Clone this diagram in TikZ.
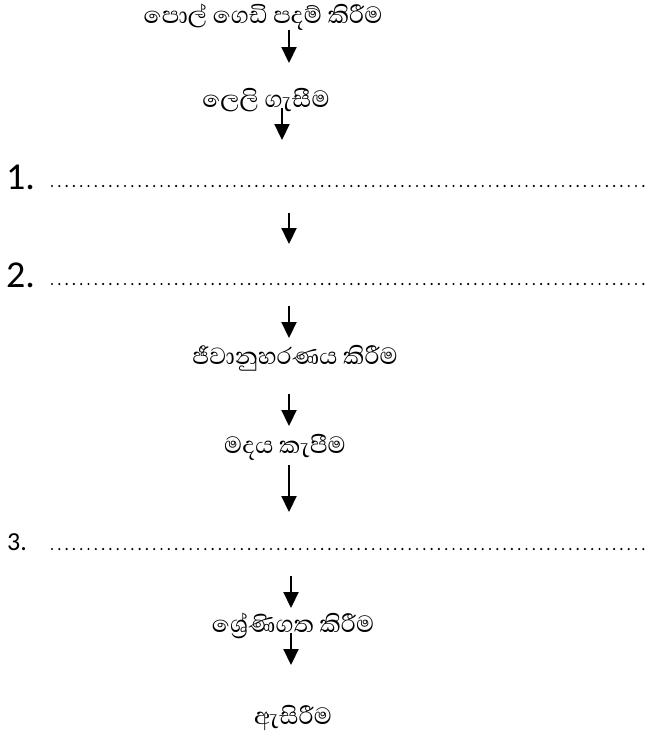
\documentclass[tikz,border=0pt]{standalone}
\usepackage{fontspec}
\usetikzlibrary{arrows.meta}
\newfontfamily\sinhalafont[Script=Sinhala]{Abhaya Libre}
\newfontfamily\calibfont{Carlito}
\tikzset{
  stepnode/.style={inner sep=0pt, font=\sinhalafont\fontsize{30}{34}\selectfont},
  numnode/.style={inner sep=0pt, anchor=base west},
  arr/.style={line width=2.2pt, -{Triangle[length=16pt,width=15pt]}},
  blank/.style={line width=2.4pt, line cap=round, dash pattern=on 0pt off 7.3pt}
}
\begin{document}
\begin{tikzpicture}[x=1pt,y=-1pt]
\useasboundingbox (0,0) rectangle (652,742);
% steps
\node[stepnode] (s1) at (263,17) {පොල් ගෙඩි පදම් කිරීම};
\node[stepnode] (s2) at (266,100) {ලෙලි ගැසීම};
\node[stepnode] (s3) at (295,358) {ජීවානුහරණය කිරීම};
\node[stepnode] (s4) at (285,447) {මදය කැපීම};
\node[stepnode] (s5) at (293,626) {ශ්‍රේණිගත කිරීම};
\node[stepnode] (s6) at (293,718) {ඇසිරීම};
% blanks
\node[numnode, font=\calibfont\fontsize{38}{40}\selectfont] (n1) at (6,189) {1.};
\node[numnode, font=\calibfont\fontsize{38}{40}\selectfont] (n2) at (6,287) {2.};
\node[numnode, font=\calibfont\fontsize{26}{28}\selectfont] (n3) at (7,550) {3.};
\coordinate (b1s) at (52,186); \coordinate (b1e) at (650,186);
\coordinate (b2s) at (52,284); \coordinate (b2e) at (650,284);
\coordinate (b3s) at (52,549); \coordinate (b3e) at (650,549);
\draw[blank] (b1s) -- (b1e);
\draw[blank] (b2s) -- (b2e);
\draw[blank] (b3s) -- (b3e);
% arrows
\coordinate (a1s) at (289,30);  \coordinate (a1e) at (289,63);
\coordinate (a2s) at (282,108); \coordinate (a2e) at (282,140);
\coordinate (a3s) at (289,213); \coordinate (a3e) at (289,244);
\coordinate (a4s) at (289,306); \coordinate (a4e) at (289,338);
\coordinate (a5s) at (289,394); \coordinate (a5e) at (289,426);
\coordinate (a6s) at (289,465); \coordinate (a6e) at (289,512);
\coordinate (a7s) at (291,576); \coordinate (a7e) at (291,608);
\coordinate (a8s) at (291,633); \coordinate (a8e) at (291,665);
\foreach \i in {1,...,8} \draw[arr] (a\i s) -- (a\i e);
\end{tikzpicture}
\end{document}
